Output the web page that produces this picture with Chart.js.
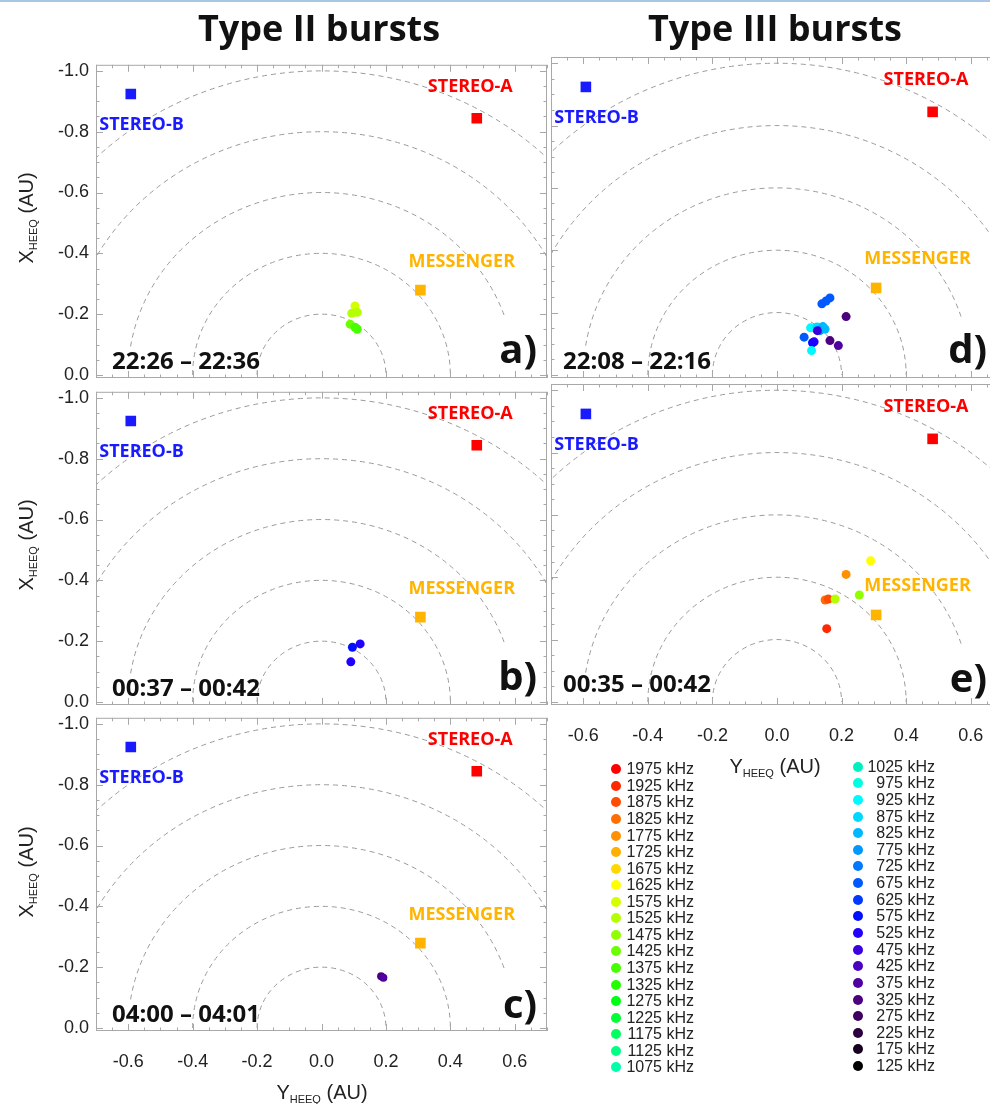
<!DOCTYPE html>
<html>
<head>
<meta charset="utf-8">
<script src="https://cdn.jsdelivr.net/npm/chart.js@4.4.1/dist/chart.umd.min.js"></script>
<style>
  body { margin:0; width:990px; height:1104px; overflow:hidden; background:#fff; position:relative;
         font-family:"Liberation Sans", Arial, sans-serif; color:#222; }
  canvas { position:absolute; }
  .abs { position:absolute; white-space:nowrap; line-height:1; }
  .title { font-family:"Open Sans", sans-serif; font-weight:700; font-size:36px; color:#111; transform:translate(-50%,-50%); }
  .time { font-family:"Open Sans", sans-serif; font-weight:700; font-size:24px; color:#111; transform:translateY(-50%); }
  .letter { font-family:"Open Sans", sans-serif; font-weight:700; font-size:40px; color:#111; transform:translate(-100%,-50%); }
  .ytitle { font-size:20px; transform:translate(-50%,-50%) rotate(-90deg); }
  .xtitle { font-size:20px; transform:translate(-50%,-50%); }
  sub { font-size:11px; vertical-align:-4px; }
  .lg { position:absolute; font-size:16px; line-height:1; white-space:nowrap; transform:translateY(-50%); }
  .dot { position:absolute; width:10px; height:10px; border-radius:50%; transform:translate(-50%,-50%); }
</style>
</head>
<body>
<div class="abs" style="left:0;top:0;width:990px;height:2px;background:#a9c6e3"></div>

<script>
// frequency channels and their colours (legend)
var freqs = [1975,1925,1875,1825,1775,1725,1675,1625,1575,1525,1475,1425,1375,1325,1275,1225,1175,1125,1075,
             1025,975,925,875,825,775,725,675,625,575,525,475,425,375,325,275,225,175,125];
var freqColors = ['#ff0000','#ff2800','#ff4c00','#ff6e00','#ff9000','#ffb000','#ffd800','#ffff00','#d4ff00','#b4ff00',
                  '#90ff00','#6cff00','#48ff00','#24ff00','#00ff10','#00ff38','#00ff60','#00ff84','#00ffa8',
                  '#00f0c0','#00ffe0','#00f8ff','#00d8ff','#00b8ff','#0098ff','#0078ff','#0058ff','#0038ff','#0010ff',
                  '#2000ff','#3c00e0','#4c00c0','#5000a0','#4c0080','#400060','#2c0040','#180020','#000000'];

// spacecraft (Y_HEEQ, X_HEEQ in AU)
var scNames = ['STEREO-A','STEREO-B','MESSENGER'];
var scY = [0.482, -0.592, 0.307];
var scX = [-0.844, -0.924, -0.279];
var scColors = ['#ff0000','#1a1aff','#ffb400'];
var scLabelY = [0.330, -0.690, 0.270];
var scLabelX = [-0.946, -0.824, -0.372];

// reference circles (AU)
var arcRadii = [0.2, 0.4, 0.6, 0.8, 1.0];
var arcFrom = [0, 0, 18, 0, 0];
var arcTo = [180, 180, 171, 180, 180];

// axis ticks
var xMajor = [-0.6,-0.4,-0.2,0.0,0.2,0.4,0.6];
var yMajor = [-1.0,-0.8,-0.6,-0.4,-0.2,0.0];

// Type II bursts
var aY = [0.104, 0.094, 0.111, 0.089, 0.104, 0.111];
var aX = [-0.227, -0.203, -0.206, -0.167, -0.157, -0.150];
var aF = [1575, 1525, 1525, 1425, 1375, 1375];

var bY = [0.096, 0.120, 0.091];
var bX = [-0.180, -0.191, -0.132];
var bF = [575, 525, 525];

var cY = [0.185, 0.192];
var cX = [-0.170, -0.165];
var cF = [325, 375];

// Type III bursts
var dY = [0.139, 0.152, 0.164, 0.214, 0.104, 0.124, 0.142, 0.133, 0.149, 0.125, 0.084, 0.110, 0.115, 0.107, 0.164, 0.190];
var dX = [-0.228, -0.237, -0.247, -0.187, -0.151, -0.154, -0.155, -0.142, -0.147, -0.142, -0.121, -0.103, -0.106, -0.078, -0.110, -0.094];
var dF = [675, 675, 675, 325, 925, 875, 825, 775, 825, 475, 675, 575, 525, 925, 325, 375];

var eY = [0.290, 0.214, 0.149, 0.159, 0.180, 0.255, 0.154];
var eX = [-0.453, -0.409, -0.327, -0.330, -0.330, -0.343, -0.235];
var eF = [1625, 1775, 1825, 1875, 1525, 1475, 1925];

function colorOf(f) { return freqColors[freqs.indexOf(f)]; }
function isMajor(v) { return Math.abs(v / 0.2 - Math.round(v / 0.2)) < 1e-6; }

var arcPlugin = {
  id: 'arcs',
  beforeDatasetsDraw: function(chart) {
    var ctx = chart.ctx, ca = chart.chartArea, xs = chart.scales.x, ys = chart.scales.y;
    ctx.save();
    ctx.beginPath();
    ctx.rect(ca.left, ca.top, ca.width, ca.height);
    ctx.clip();
    ctx.strokeStyle = '#9a9a9a';
    ctx.lineWidth = 1;
    ctx.setLineDash([5, 4]);
    var cx = xs.getPixelForValue(0), cy = ys.getPixelForValue(0);
    arcRadii.forEach(function(r, i) {
      var rx = xs.getPixelForValue(r) - cx;
      var ry = Math.abs(ys.getPixelForValue(-r) - cy);
      ctx.beginPath();
      ctx.ellipse(cx, cy, rx, ry, 0, -arcTo[i] * Math.PI / 180, -arcFrom[i] * Math.PI / 180);
      ctx.stroke();
    });
    ctx.restore();
  }
};

var framePlugin = {
  id: 'frame',
  beforeDatasetsDraw: function(chart) {
    var ctx = chart.ctx, ca = chart.chartArea, xs = chart.scales.x, ys = chart.scales.y;
    ctx.save();
    ctx.strokeStyle = '#a8a8a8';
    ctx.lineWidth = 1;
    ctx.strokeRect(ca.left + 0.5, ca.top + 0.5, ca.width - 1, ca.height - 1);
    ctx.beginPath();
    for (var v = -0.7; v <= 0.7001; v += 0.05) {
      var px = Math.round(xs.getPixelForValue(v)) + 0.5;
      var len = isMajor(v) ? 7 : 3.5;
      ctx.moveTo(px, ca.bottom); ctx.lineTo(px, ca.bottom - len);
      ctx.moveTo(px, ca.top); ctx.lineTo(px, ca.top + len);
    }
    for (var w = -1.0; w <= 0.0001; w += 0.05) {
      var py = Math.round(ys.getPixelForValue(w)) + 0.5;
      var l2 = isMajor(w) ? 7 : 3.5;
      ctx.moveTo(ca.left, py); ctx.lineTo(ca.left + l2, py);
      ctx.moveTo(ca.right, py); ctx.lineTo(ca.right - l2, py);
    }
    ctx.stroke();
    ctx.restore();
  }
};

var labelPlugin = {
  id: 'sclabels',
  afterDatasetsDraw: function(chart) {
    var ctx = chart.ctx, xs = chart.scales.x, ys = chart.scales.y;
    ctx.save();
    ctx.font = 'bold 18px "Open Sans"';
    ctx.textAlign = 'left';
    ctx.textBaseline = 'middle';
    scNames.forEach(function(n, i) {
      ctx.fillStyle = scColors[i];
      ctx.fillText(n, xs.getPixelForValue(scLabelY[i]), ys.getPixelForValue(scLabelX[i]));
    });
    ctx.restore();
  }
};

var tickFont = { family: '"Liberation Sans", Arial, sans-serif', size: 18 };

function makePanel(p) {
  var cv = document.createElement('canvas');
  cv.width = p.w + 70;
  cv.height = p.h + 60;
  cv.style.left = (p.left - 60) + 'px';
  cv.style.top = (p.top - 10) + 'px';
  document.body.appendChild(cv);

  var pts = p.Y.map(function(y, i) { return { x: y, y: p.X[i] }; });
  var sc = scY.map(function(y, i) { return { x: y, y: scX[i] }; });

  new Chart(cv, {
    type: 'scatter',
    data: {
      datasets: [
        { data: pts, pointRadius: p.r || 4.5, pointBorderWidth: 0,
          pointBackgroundColor: p.F.map(colorOf) },
        { data: sc, pointStyle: 'rect', pointRadius: 7.5, pointBorderWidth: 0,
          pointBackgroundColor: scColors }
      ]
    },
    options: {
      responsive: false,
      animation: false,
      events: [],
      layout: { padding: { top: 10, right: 10, left: 0, bottom: 0 } },
      plugins: { legend: { display: false }, tooltip: { enabled: false } },
      scales: {
        x: {
          type: 'linear', min: -0.7, max: 0.7,
          grid: { display: false, drawTicks: false, tickLength: 0 },
          border: { display: false },
          afterBuildTicks: function(s) { s.ticks = xMajor.map(function(v) { return { value: v }; }); },
          afterFit: function(s) { s.height = 50; },
          ticks: { display: p.showX, padding: 20, color: '#222', font: tickFont,
                   callback: function(v) { return v.toFixed(1); } }
        },
        y: {
          type: 'linear', min: -1.02, max: 0.01, reverse: true,
          grid: { display: false, drawTicks: false, tickLength: 0 },
          border: { display: false },
          afterBuildTicks: function(s) { s.ticks = yMajor.map(function(v) { return { value: v }; }); },
          afterFit: function(s) { s.width = 60; },
          ticks: { display: p.showY, padding: 7, color: '#222', font: tickFont,
                   callback: function(v) { return v.toFixed(1); } }
        }
      }
    },
    plugins: [arcPlugin, framePlugin, labelPlugin]
  });
}

makePanel({ left: 96, top: 57, w: 451, h: 321, Y: aY, X: aX, F: aF, showX: false, showY: true });
makePanel({ left: 96, top: 384, w: 451, h: 321, Y: bY, X: bX, F: bF, showX: false, showY: true });
makePanel({ left: 96, top: 710, w: 451, h: 321, Y: cY, X: cX, F: cF, showX: true, showY: true, r: 4 });
makePanel({ left: 551, top: 57, w: 452, h: 321, Y: dY, X: dX, F: dF, showX: false, showY: false });
makePanel({ left: 551, top: 384, w: 452, h: 321, Y: eY, X: eX, F: eF, showX: true, showY: false });

// text overlays
function addText(cls, html, left, top) {
  var d = document.createElement('div');
  d.className = 'abs ' + cls;
  d.innerHTML = html;
  d.style.left = left + 'px';
  d.style.top = top + 'px';
  document.body.appendChild(d);
}
addText('title', 'Type II bursts', 319, 28);
addText('title', 'Type III bursts', 775, 28);

var yTitle = 'X<sub>HEEQ</sub> (AU)';
var xTitle = 'Y<sub>HEEQ</sub> (AU)';
addText('ytitle', yTitle, 27, 218);
addText('ytitle', yTitle, 27, 545);
addText('ytitle', yTitle, 27, 872);
addText('xtitle', xTitle, 322, 1093);
addText('xtitle', xTitle, 775, 767);

var timeLabels = ['22:26 \u2013 22:36', '00:37 \u2013 00:42', '04:00 \u2013 04:01', '22:08 \u2013 22:16', '00:35 \u2013 00:42'];
var timePos = [[112, 360], [112, 687], [112, 1013], [563, 360], [563, 683]];
var letters = ['a)', 'b)', 'c)', 'd)', 'e)'];
var letterPos = [[537, 348], [537, 675], [537, 1003], [987, 348], [987, 677]];
timeLabels.forEach(function(t, i) { addText('time', t, timePos[i][0], timePos[i][1]); });
letters.forEach(function(t, i) { addText('letter', t, letterPos[i][0], letterPos[i][1]); });

// frequency legend, two columns
freqs.forEach(function(f, i) {
  var col = i < 19 ? 0 : 1;
  var row = col === 0 ? i : i - 19;
  var dotX = col === 0 ? 616 : 858;
  var y = col === 0 ? 769.3 + row * 16.56 : 766.7 + row * 16.63;
  var textRight = col === 0 ? 694 : 935;
  var dot = document.createElement('div');
  dot.className = 'dot';
  dot.style.left = dotX + 'px';
  dot.style.top = y + 'px';
  dot.style.background = freqColors[i];
  document.body.appendChild(dot);
  var t = document.createElement('div');
  t.className = 'lg';
  t.textContent = f + ' kHz';
  t.style.right = (990 - textRight) + 'px';
  t.style.top = y + 'px';
  document.body.appendChild(t);
});
</script>
</body>
</html>
